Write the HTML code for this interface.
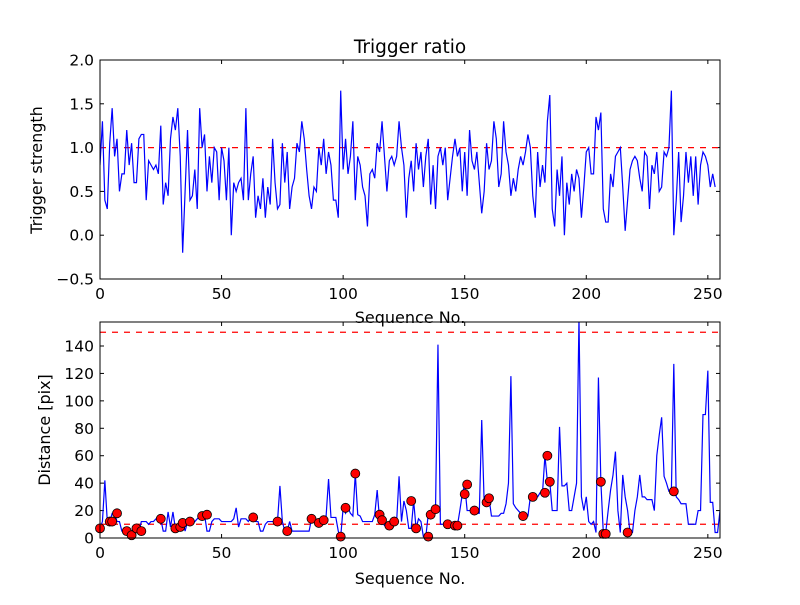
<!DOCTYPE html>
<html><head><meta charset="utf-8"><style>
body{margin:0;background:#fff}
svg text{font-family:"DejaVu Sans","Liberation Sans",sans-serif;fill:#000}
</style></head><body>
<svg id="chart" width="800" height="600" xmlns="http://www.w3.org/2000/svg">
<rect width="800" height="600" fill="#fff"/>
</svg>
<script>
const ratioValues=[0.8,1.3,0.4,0.3,1.05,1.45,0.9,1.1,0.5,0.7,
0.7,1.2,0.8,1.05,0.6,0.6,1.1,1.15,1.15,0.4,
0.85,0.8,0.75,0.8,0.7,1.25,0.35,0.6,0.45,1.1,
1.35,1.2,1.45,0.9,-0.2,0.5,1.2,0.4,0.45,0.75,
0.3,1.45,1.0,1.15,0.5,0.9,0.6,1.0,0.95,0.4,
1.0,0.85,0.4,1.0,0.0,0.6,0.5,0.6,0.65,0.4,
1.45,0.4,0.7,0.9,0.2,0.45,0.3,0.65,0.2,0.55,
0.35,1.1,0.6,0.3,0.35,1.05,0.6,0.95,0.3,0.55,
0.65,1.05,0.95,1.3,1.1,0.75,0.45,0.3,0.55,0.5,
1.0,0.8,1.1,0.7,0.95,0.8,0.4,0.4,0.2,1.65,
0.75,1.1,0.7,0.9,1.3,0.4,0.9,0.8,0.55,0.45,
0.1,0.7,0.75,0.65,1.05,0.95,1.3,0.9,0.5,0.85,
0.9,0.8,0.9,1.3,1.0,0.8,0.2,0.65,0.85,0.5,
1.05,0.75,0.95,0.55,0.9,1.1,0.35,0.8,0.3,0.9,
1.0,0.8,1.0,0.4,0.65,0.9,1.1,0.9,1.0,0.5,
0.95,0.45,1.2,0.85,0.75,0.95,0.6,0.25,0.5,1.05,
0.75,0.85,1.3,1.1,0.55,0.7,1.3,0.95,0.8,0.45,
0.65,0.5,0.75,0.9,0.8,0.95,1.15,1.0,0.45,0.2,
0.95,0.55,0.8,0.6,1.3,1.6,0.3,0.1,0.75,0.45,
0.9,0.0,0.6,0.35,0.7,0.5,0.75,0.65,0.2,0.55,
0.95,1.0,0.7,0.7,1.35,1.2,1.4,0.3,0.15,0.15,
0.7,0.55,0.9,0.95,1.0,0.55,0.05,0.4,0.75,0.85,
0.9,0.85,0.65,0.5,0.95,0.9,0.3,0.8,0.7,0.95,
0.5,0.55,0.95,0.9,1.0,1.65,0.0,0.4,0.95,0.15,
0.45,0.95,0.6,0.9,0.45,0.9,0.35,0.8,0.95,0.9,
0.8,0.55,0.7,0.55];
const distValues=[7,12,42,12,12,18,18,12,12,5,
5,5,2,5,7,5,5,12,12,12,
10,12,12,14,14,14,5,5,19,8,
19,7,8,11,12,5,12,12,10,12,
14,16,17,17,5,5,12,14,14,14,
12,12,12,12,12,14,22,8,14,14,
14,12,15,15,12,12,5,5,10,12,
12,12,12,12,38,12,5,5,12,5,
5,5,5,5,5,5,5,14,14,11,
13,13,13,16,43,15,15,15,5,1,
22,18,22,18,16,47,17,16,12,12,
12,12,12,17,35,13,13,9,9,12,
12,15,12,45,12,27,20,7,7,27,
7,14,12,1,1,17,18,21,21,141,
10,10,10,8,10,9,9,9,20,32,
39,20,20,20,18,18,18,86,26,29,
29,16,16,16,16,18,18,25,40,118,
25,22,20,18,16,16,16,30,30,30,
30,33,33,60,41,41,20,20,20,81,
38,38,40,20,20,30,40,160,30,20,
30,12,10,12,4,117,41,4,4,20,
35,46,63,20,4,46,30,20,4,4,
20,30,46,30,30,28,28,28,20,60,
75,88,45,40,34,34,127,30,28,25,
25,25,10,10,10,10,20,20,90,90,
122,26,26,4,4,20];
const dotIndex=[0,4,5,7,11,13,15,17,25,31,33,34,37,42,44,63,73,77,87,90,92,99,101,105,115,116,119,121,128,130,135,136,138,143,146,147,150,151,154,159,160,174,178,183,184,185,206,207,208,217,236];
const dotValues=[7,12,12,18,5,2,7,5,14,7,8,11,12,16,17,15,12,5,14,11,13,1,22,47,17,13,9,12,27,7,1,17,21,10,9,9,32,39,20,26,29,16,30,33,60,41,41,3,3,4,34];
const topTicks=[-0.5,0.0,0.5,1.0,1.5,2.0];
const botTicks=[0,20,40,60,80,100,120,140];
const xTicks=[0,50,100,150,200,250];

const NS="http://www.w3.org/2000/svg";
const svg=document.getElementById('chart');
function el(t,a,p){const e=document.createElementNS(NS,t);for(const k in a)e.setAttribute(k,a[k]);(p||svg).appendChild(e);return e;}
const L=100,R=720,XMAX=255;
const xs=v=>L+(R-L)*v/XMAX;
function panel(top,bot,ymin,ymax,ticks,fmt,name){
  const ys=v=>bot-(bot-top)*(v-ymin)/(ymax-ymin);
  const g=el('g',{});
  
  
  xTicks.forEach(t=>{
    const x=xs(t);
    el('line',{x1:x,x2:x,y1:bot,y2:bot-4,stroke:'#000'},g);
    el('line',{x1:x,x2:x,y1:top,y2:top+4,stroke:'#000'},g);
    const tx=el('text',{x:x,y:bot+20,'text-anchor':'middle','font-size':15.5},g);
    tx.textContent=t;
    
    
  });
  ticks.forEach(t=>{
    const y=ys(t);
    el('line',{x1:L,x2:L+4,y1:y,y2:y,stroke:'#000'},g);
    el('line',{x1:R,x2:R-4,y1:y,y2:y,stroke:'#000'},g);
    const tx=el('text',{x:L-6,y:y+5.5,'text-anchor':'end','font-size':15.5},g);
    tx.textContent=fmt(t);
    
    
  });
  return {g,ys};
}
const tp=panel(60,279,-0.5,2.0,topTicks,t=>t.toFixed(1).replace('-','\u2212'),'ratio-panel');
const cp1=el('clipPath',{id:'c1'});el('rect',{x:L,y:60,width:R-L,height:219},cp1);
const th=el('line',{x1:L,x2:R,y1:tp.ys(1),y2:tp.ys(1),stroke:'red','stroke-dasharray':'6,6','stroke-width':1.2},tp.g);


const l1=el('polyline',{points:ratioValues.map((v,i)=>xs(i)+','+tp.ys(v)).join(' '),fill:'none',stroke:'#0000ff','stroke-width':1.2,'clip-path':'url(#c1)'},tp.g);


el('rect',{x:L,y:60,width:R-L,height:219,fill:'none',stroke:'#000'},tp.g);
const bp=panel(322,538,0,157.5,botTicks,t=>t,'distance-panel');
const cp2=el('clipPath',{id:'c2'});el('rect',{x:L,y:322,width:R-L,height:216},cp2);
[150,10].forEach(v=>{
  const d=el('line',{x1:L,x2:R,y1:bp.ys(v),y2:bp.ys(v),stroke:'red','stroke-dasharray':'6,6','stroke-width':1.2},bp.g);
  
  
});
const l2=el('polyline',{points:distValues.map((v,i)=>xs(i)+','+bp.ys(v)).join(' '),fill:'none',stroke:'#0000ff','stroke-width':1.2,'clip-path':'url(#c2)'},bp.g);


dotIndex.forEach((ix,k)=>{
  const c=el('circle',{cx:xs(ix),cy:bp.ys(dotValues[k]),r:4.5,fill:'red',stroke:'#000','stroke-width':0.8},bp.g);
  
  
});
el('rect',{x:L,y:322,width:R-L,height:216,fill:'none',stroke:'#000'},bp.g);
function txt(s,a,name){const t=el('text',a);t.textContent=s;return t;}
txt('Trigger ratio',{x:410,y:53,'text-anchor':'middle','font-size':18.5},'chart-title');
txt('Sequence No.',{x:410,y:323,'text-anchor':'middle','font-size':16},'top-x-axis-title');
txt('Sequence No.',{x:410,y:584,'text-anchor':'middle','font-size':16},'bottom-x-axis-title');
txt('Trigger strength',{x:0,y:0,'text-anchor':'middle','font-size':16,transform:'translate(42,170) rotate(-90)'},'top-y-axis-title');
txt('Distance [pix]',{x:0,y:0,'text-anchor':'middle','font-size':16,transform:'translate(50,430) rotate(-90)'},'bottom-y-axis-title');
</script>
</body></html>
